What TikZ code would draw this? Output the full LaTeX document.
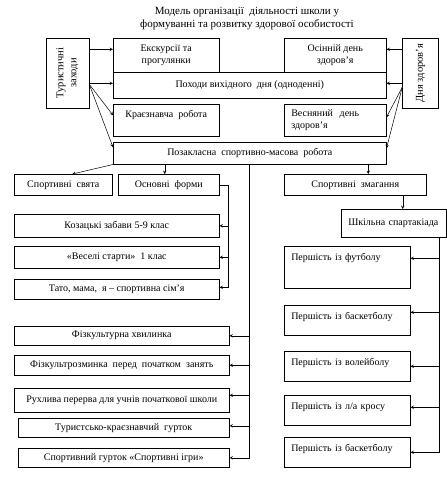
\documentclass[tikz,border=0pt]{standalone}
\usepackage{fontspec}
\setmainfont{Liberation Serif}
\usetikzlibrary{arrows,positioning}

\begin{document}
\begin{tikzpicture}[x=1pt,y=1pt,line width=0.5pt,
	blk/.style={draw,anchor=north west,inner sep=2pt,align=center,font=\fontsize{10}{12}\selectfont},
	pbox/.style={draw,anchor=north west,text width=112pt,align=left,inner xsep=7pt,inner ysep=5pt,text height=9pt,font=\fontsize{10}{12}\selectfont},
	side/.style={draw,rotate=90,minimum width=70pt,align=center,inner sep=2pt,font=\fontsize{10.5}{13}\selectfont}]
\useasboundingbox (0,0) rectangle (447,-483);

\node[align=center,font=\fontsize{11}{13}\selectfont] (title) at (247,-19)
	{Модель організації \ діяльності школи у\\формуванні та розвитку здорової особистості};

\node[side,minimum height=43pt] (tur) at (67.5,-73) {Туристичні\\заходи};
\node[side,minimum height=36pt] (zd) at (420.5,-73) {Дня здоров'я};

\node[blk,minimum width=106pt,minimum height=34pt] (exc) at (113,-38) {Екскурсії та\\прогулянки};
\node[blk,minimum width=102pt,minimum height=34pt] (osi) at (284,-38) {Осінній день\\здоров'я};
\node[blk,minimum width=273pt,minimum height=26pt] (poh) at (113,-72) {Походи вихідного \ дня (одноденні)};
\node[blk,minimum width=106pt,text height=9pt,text depth=15pt,inner ysep=4pt] (kra) at (113,-104) {Краєзнавча \ робота};
\node[blk,minimum width=102pt,minimum height=32pt,text width=88pt,align=left,inner xsep=7pt] (ves) at (284,-104) {Весняний \ день\\здоров'я};
\node[blk,minimum width=273pt,minimum height=22pt] (poz) at (113,-142) {Позакласна \ спортивно-масова \ робота};

\node[blk,minimum width=98pt,minimum height=21pt] (sv) at (14,-174) {Спортивні \ свята};
\node[blk,minimum width=101pt,minimum height=21pt] (osn) at (118,-174) {Основні \ форми};
\node[blk,minimum width=142pt,minimum height=21pt] (zm) at (284,-174) {Спортивні \ змагання};

\node[blk,minimum width=205pt,minimum height=23pt] (koz) at (14,-214) {Козацькі забави 5-9 клас};
\node[blk,minimum width=205pt,minimum height=22pt] (vst) at (14,-246) {«Веселі старти» \ 1 клас};
\node[blk,minimum width=205pt,minimum height=20pt] (tato) at (14,-279) {Тато, мама, \ я – спортивна сім'я};

\node[blk,minimum width=215pt,minimum height=19pt] (hv) at (14,-326) {Фізкультурна хвилинка};
\node[blk,minimum width=215pt,minimum height=20pt] (roz) at (14,-355) {Фізкультрозминка \ перед \ початком \ занять};
\node[blk,minimum width=215pt,minimum height=24pt] (ruh) at (14,-388) {Рухлива перерва для учнів початкової школи};
\node[blk,minimum width=211pt,minimum height=19pt] (gur) at (18,-418) {Туристсько-краєзнавчий \ гурток};
\node[blk,minimum width=211pt,minimum height=19pt] (sig) at (18,-448) {Спортивний гурток «Спортивні ігри»};

\node[blk,minimum width=105pt,minimum height=28pt,text width=91pt,align=left,inner xsep=7pt] (shk) at (341,-209) {Шкільна спартакіада};
\node[pbox,text depth=23pt] (fut) at (284,-246) {Першість із футболу};
\node[pbox,text depth=11pt] (bas) at (284,-305) {Першість із баскетболу};
\node[pbox,text depth=11pt] (vol) at (284,-351) {Першість із волейболу};
\node[pbox,text depth=11pt] (kro) at (284,-395) {Першість із л/а кросу};
\node[pbox,text depth=11pt] (bas2) at (284,-437) {Першість із баскетболу};

\draw[-stealth] ([yshift=6pt]tur.south |- exc.west) -- ([yshift=6pt]exc.west);
\draw[-stealth] ([yshift=2pt]tur.south |- poh.west) -- ([yshift=2pt]poh.west);
\draw[-stealth] ([yshift=1pt]tur.south |- poh.west) -- ([yshift=5pt]kra.west);
\draw[-stealth] ([yshift=1pt]tur.south |- poh.west) -- ([yshift=6pt]poz.west);
\draw[-stealth] ([yshift=6pt]zd.north |- osi.east) -- ([yshift=6pt]osi.east);
\draw[-stealth] ([yshift=2pt]zd.north |- poh.east) -- ([yshift=2pt]poh.east);
\draw[-stealth] ([yshift=-2pt]zd.north |- poh.east) -- ([yshift=3pt]ves.east);
\draw[-stealth] ([yshift=-2pt]zd.north |- poh.east) -- ([yshift=5pt]poz.east);

\draw[-stealth] (poz.south west) -- ([xshift=9pt]sv.north);
\draw[-stealth] ([xshift=-4pt]osn.north |- poz.south) -- ([xshift=-4pt]osn.north);
\draw[-stealth] ([xshift=13pt]zm.north |- poz.south) -- ([xshift=13pt]zm.north);

\draw[-stealth] (osn.east) -- ++(9,0) |- (koz.east);
\draw[-stealth] (osn.east) -- ++(9,0) |- (vst.east);
\draw[-stealth] (osn.east) -- ++(9,0) |- ([yshift=2pt]tato.east);

\draw[-stealth] ([xshift=-1pt]poz.south) |- (hv.east);
\draw[-stealth] ([xshift=-1pt]poz.south) |- (roz.east);
\draw[-stealth] ([xshift=-1pt]poz.south) |- ([yshift=5pt]ruh.east);
\draw[-stealth] ([xshift=-1pt]poz.south) |- ([yshift=2pt]gur.east);
\draw[-stealth] ([xshift=-1pt]poz.south) |- (sig.east);

\draw[-stealth] ([xshift=9pt]shk.north |- zm.south) -- ([xshift=9pt]shk.north);
\draw[-stealth] ([xshift=45pt]shk.south) |- ([yshift=9pt]fut.east);
\draw[-stealth] ([xshift=45pt]shk.south) |- ([yshift=8pt]bas.east);
\draw[-stealth] ([xshift=45pt]shk.south) |- (vol.east);
\draw[-stealth] ([xshift=45pt]shk.south) |- ([yshift=3pt]kro.east);
\draw[-stealth] ([xshift=45pt]shk.south) |- (bas2.east);

\end{tikzpicture}
\end{document}
